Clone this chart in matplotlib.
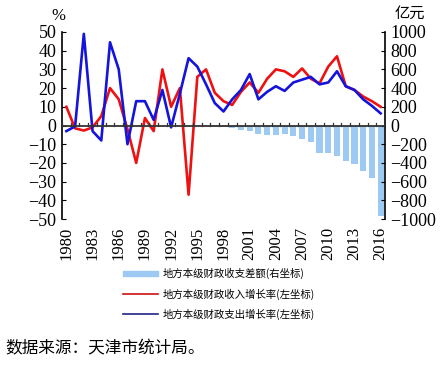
import numpy as np
import matplotlib.pyplot as plt
from matplotlib.patches import Patch
from matplotlib.lines import Line2D
from matplotlib.transforms import blended_transform_factory

years = list(range(1980, 2017))
# 地方本级财政收入增长率 (%)
income_growth = [10, -1.5, -2.7, -1, 5, 20, 14, -2, -20, 4,
                 -3, 30, 10, 20, -37, 26, 30, 17.5, 13, 11,
                 18, 23, 17.5, 25, 30, 29, 26, 30.5, 25, 22.5,
                 31.5, 37, 21, 19, 15.5, 13, 10]
# 地方本级财政支出增长率 (%)
expend_growth = [-3, -0.5, 49, -3, -8, 44.5, 30, -10, 13, 13,
                 3, 19, -1, 17, 36, 31.5, 22, 12, 7.5, 14,
                 19, 27.5, 14, 18, 21, 18.5, 23, 24.5, 26, 22,
                 23, 29, 21, 19, 14, 10.5, 6.5]
# 地方本级财政收支差额 (亿元)
balance = [-2, -2, -3, -3, -4, -4, -5, -5, -6, -6,
           -6, -7, -8, -8, -10, -10, -12, -15, -20, -25,
           -43, -60, -96, -100, -100, -95, -110, -140, -180, -290,
           -291, -327, -380, -415, -486, -557, -965]
year_labels = [str(y) for y in years[::3]]

serif = ['Liberation Serif', 'Noto Sans CJK SC']
cjk = ['Noto Sans CJK SC', 'DejaVu Sans']
plt.rcParams['font.family'] = serif

fig = plt.figure(figsize=(4.42, 3.68), dpi=100)
ax = fig.add_axes([62/442, 1-219/368, 323/442, 187/368])
ax2 = ax.twinx()

x = np.arange(len(years))
ax2.bar(x, balance, width=0.7, color='#9CCAF2', zorder=1)
ax.plot(x, income_growth, color='#EE1111', lw=1.9)
ax.plot(x, expend_growth, color='#1414DC', lw=1.9)

ax.set_zorder(ax2.get_zorder() + 1)
ax.patch.set_visible(False)

ax.set_xlim(-0.5, len(years) - 0.5)
ax.set_ylim(-50, 50)
ax2.set_ylim(-1000, 1000)
ax.set_yticks(np.arange(-50, 51, 10))
ax2.set_yticks(np.arange(-1000, 1001, 200))
ax.set_yticklabels([str(v).replace('-', '\u2212') for v in range(-50, 51, 10)])
ax2.set_yticklabels([str(v).replace('-', '\u2212') for v in range(-1000, 1001, 200)])

for a in (ax, ax2):
    a.spines['top'].set_visible(False)
    a.spines['bottom'].set_visible(False)
ax.spines['right'].set_visible(False)
ax.spines['left'].set_linewidth(1.2)
ax2.spines['right'].set_linewidth(1.2)
ax2.spines['left'].set_visible(False)

ax.tick_params(axis='y', direction='in', length=3, labelsize=13, pad=4)
ax2.tick_params(axis='y', direction='in', length=3, labelsize=13, pad=4)

# zero line with category boundary ticks
ax.axhline(0, color='#333333', lw=1.3, zorder=3)
ax.set_xticks([])
for b in np.arange(-0.5, len(years), 1.0):
    ax.plot([b, b], [0, 1.3], color='#333333', lw=0.9, zorder=3)

trans = blended_transform_factory(ax.transData, ax.transAxes)
for i, lab in zip(x[::3], year_labels):
    ax.text(i, -0.04, lab, transform=trans, rotation=90, ha='center', va='top', fontsize=12)

fig.text(58/442, 1-16/368, '%', fontsize=12, ha='center', va='center')
fig.text(410/442, 1-13/368, '亿元', fontsize=11, ha='center', va='center', family=cjk)

handles = [Patch(color='#9CCAF2'),
           Line2D([], [], color='#CC1111', lw=1.2),
           Line2D([], [], color='#222288', lw=1.2)]
labels = ['地方本级财政收支差额(右坐标)', '地方本级财政收入增长率(左坐标)', '地方本级财政支出增长率(左坐标)']
leg = fig.legend(handles, labels, loc='upper left', bbox_to_anchor=(118/442, 1-263/368),
                 frameon=False, prop={'family': cjk, 'size': 7.5}, handlelength=3.3,
                 handleheight=0.4, labelspacing=0.85, handletextpad=0.5, borderpad=0)

fig.text(5/442, 1-349/368, '数据来源：天津市统计局。', fontsize=12, ha='left', va='center', family=cjk)

fig.savefig('out.png', dpi=100)
